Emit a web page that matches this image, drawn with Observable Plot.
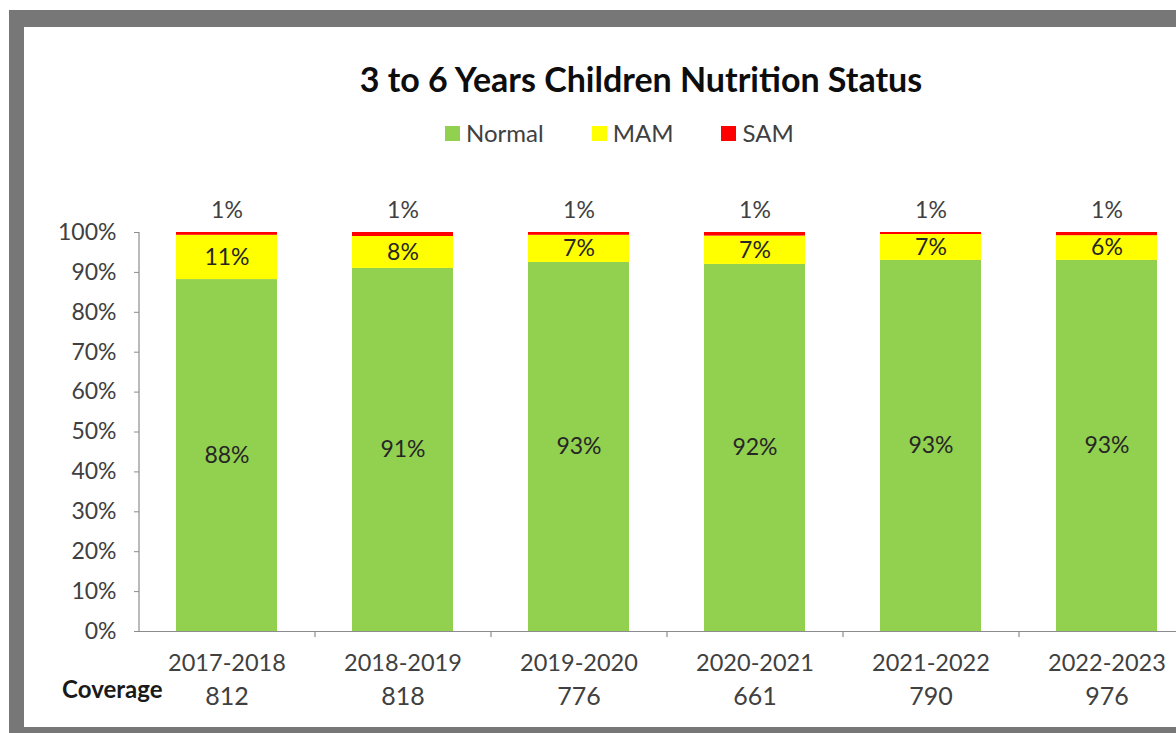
<!DOCTYPE html>
<html>
<head>
<meta charset="utf-8">
<script src="https://cdn.jsdelivr.net/npm/d3@7"></script>
<script src="https://cdn.jsdelivr.net/npm/@observablehq/plot@0.6"></script>
<style>
  html, body { margin: 0; padding: 0; }
  body { width: 1176px; height: 733px; overflow: hidden; position: relative; background: #fff; font-family: Lato, "Open Sans", sans-serif; }
  #frame { position: absolute; left: 9px; top: 10px; width: 1220px; height: 760px; background: #777777; }
  #panel { position: absolute; left: 24px; top: 27px; width: 1200px; height: 700px; background: #ffffff; }
  #title { position: absolute; left: 641px; top: 59px; transform: translateX(-50%); white-space: nowrap; font-weight: 700; font-size: 34px; color: #0d0d0d; line-height: 40px; }
  #legend { position: absolute; left: 445px; top: 119px; display: flex; gap: 48px; font-size: 24px; color: #404040; line-height: 28px; }
  #legend .item { display: flex; align-items: center; }
  #legend .sw { width: 15px; height: 15px; margin-right: 6px; }
  #chart { position: absolute; left: 0; top: 180px; }
</style>
</head>
<body>
<div id="frame"></div>
<div id="panel"></div>
<div id="title">3 to 6 Years Children Nutrition Status</div>
<div id="legend"></div>
<div id="chart"></div>
<script>
const years = ["2017-2018", "2018-2019", "2019-2020", "2020-2021", "2021-2022", "2022-2023"];
const coverage = [812, 818, 776, 661, 790, 976];
const statuses = ["Normal", "MAM", "SAM"];
const normal = [88.2, 91, 92.5, 92, 93, 93];
const mam = [11.1, 8, 6.8, 7.1, 6.5, 6.2];
const sam = [0.7, 1, 0.7, 0.9, 0.5, 0.8];
const normalLabels = ["88%", "91%", "93%", "92%", "93%", "93%"];
const mamLabels = ["11%", "8%", "7%", "7%", "7%", "6%"];
const samLabels = ["1%", "1%", "1%", "1%", "1%", "1%"];
const yTicks = [0, 10, 20, 30, 40, 50, 60, 70, 80, 90, 100];
const statusColors = ["#92D050", "#FFFF00", "#FF0000"];

const rows = years.flatMap((year, i) => [
  {year, status: "Normal", value: normal[i], label: normalLabels[i]},
  {year, status: "MAM", value: mam[i], label: mamLabels[i]},
  {year, status: "SAM", value: sam[i], label: samLabels[i]}
]);

// legend
const legend = document.getElementById("legend");
statuses.forEach((s, i) => {
  const item = document.createElement("div");
  item.className = "item";
  const sw = document.createElement("span");
  sw.className = "sw";
  sw.style.background = statusColors[i];
  const t = document.createElement("span");
  t.textContent = s;
  item.appendChild(sw);
  item.appendChild(t);
  legend.appendChild(item);
});

const axisGray = "#8c8c8c";
const textColor = "#262626";

const chart = Plot.plot({
  width: 1176,
  height: 547,
  marginTop: 52,
  marginBottom: 96,
  marginLeft: 139,
  marginRight: -19,
  style: {background: "transparent", fontFamily: "Lato, 'Open Sans', sans-serif", fontSize: "22px", color: textColor, overflow: "visible"},
  x: {domain: years, paddingInner: 0.426, paddingOuter: 0.213, axis: null},
  y: {domain: [0, 100], axis: null},
  color: {domain: statuses, range: statusColors},
  marks: [
    Plot.barY(rows, {x: "year", y: "value", fill: "status", order: statuses}),
    Plot.axisY({ticks: yTicks, tickFormat: d => d + "%", tickSize: 5, tickPadding: 18, stroke: axisGray, fill: "#404040", fontSize: 23, label: null}),
    Plot.ruleX([years[0]], {x: d => d, y1: 0, y2: 100, dx: -88, stroke: axisGray, strokeWidth: 1.2}),
    Plot.ruleY([0], {stroke: axisGray, strokeWidth: 1.2}),
    Plot.ruleX(years, {x: d => d, y1: 0, y2: 0, dx: 88, insetBottom: -6, stroke: axisGray, strokeWidth: 1.2}),
    Plot.text(rows, Plot.stackY({x: "year", y: "value", z: "status", order: statuses, text: d => d.status === "SAM" ? null : d.label, fill: textColor, fontSize: 23})),
    Plot.text(rows, Plot.stackY2({x: "year", y: "value", z: "status", order: statuses, text: d => d.status === "SAM" ? d.label : null, dy: -22, fill: "#404040", fontSize: 23})),
    Plot.text(years, {x: d => d, text: d => d, frameAnchor: "bottom", dy: 39, fill: "#404040", fontSize: 23.5}),
    Plot.text(coverage, {x: (d, i) => years[i], text: d => String(d), frameAnchor: "bottom", dy: 73, fill: "#404040", fontSize: 25}),
    Plot.text(["Coverage"], {text: d => d, frameAnchor: "bottom-left", textAnchor: "end", dx: 23, dy: 66, fontWeight: "bold", fill: "#1a1a1a", fontSize: 24})
  ]
});
document.getElementById("chart").appendChild(chart);
</script>
</body>
</html>
